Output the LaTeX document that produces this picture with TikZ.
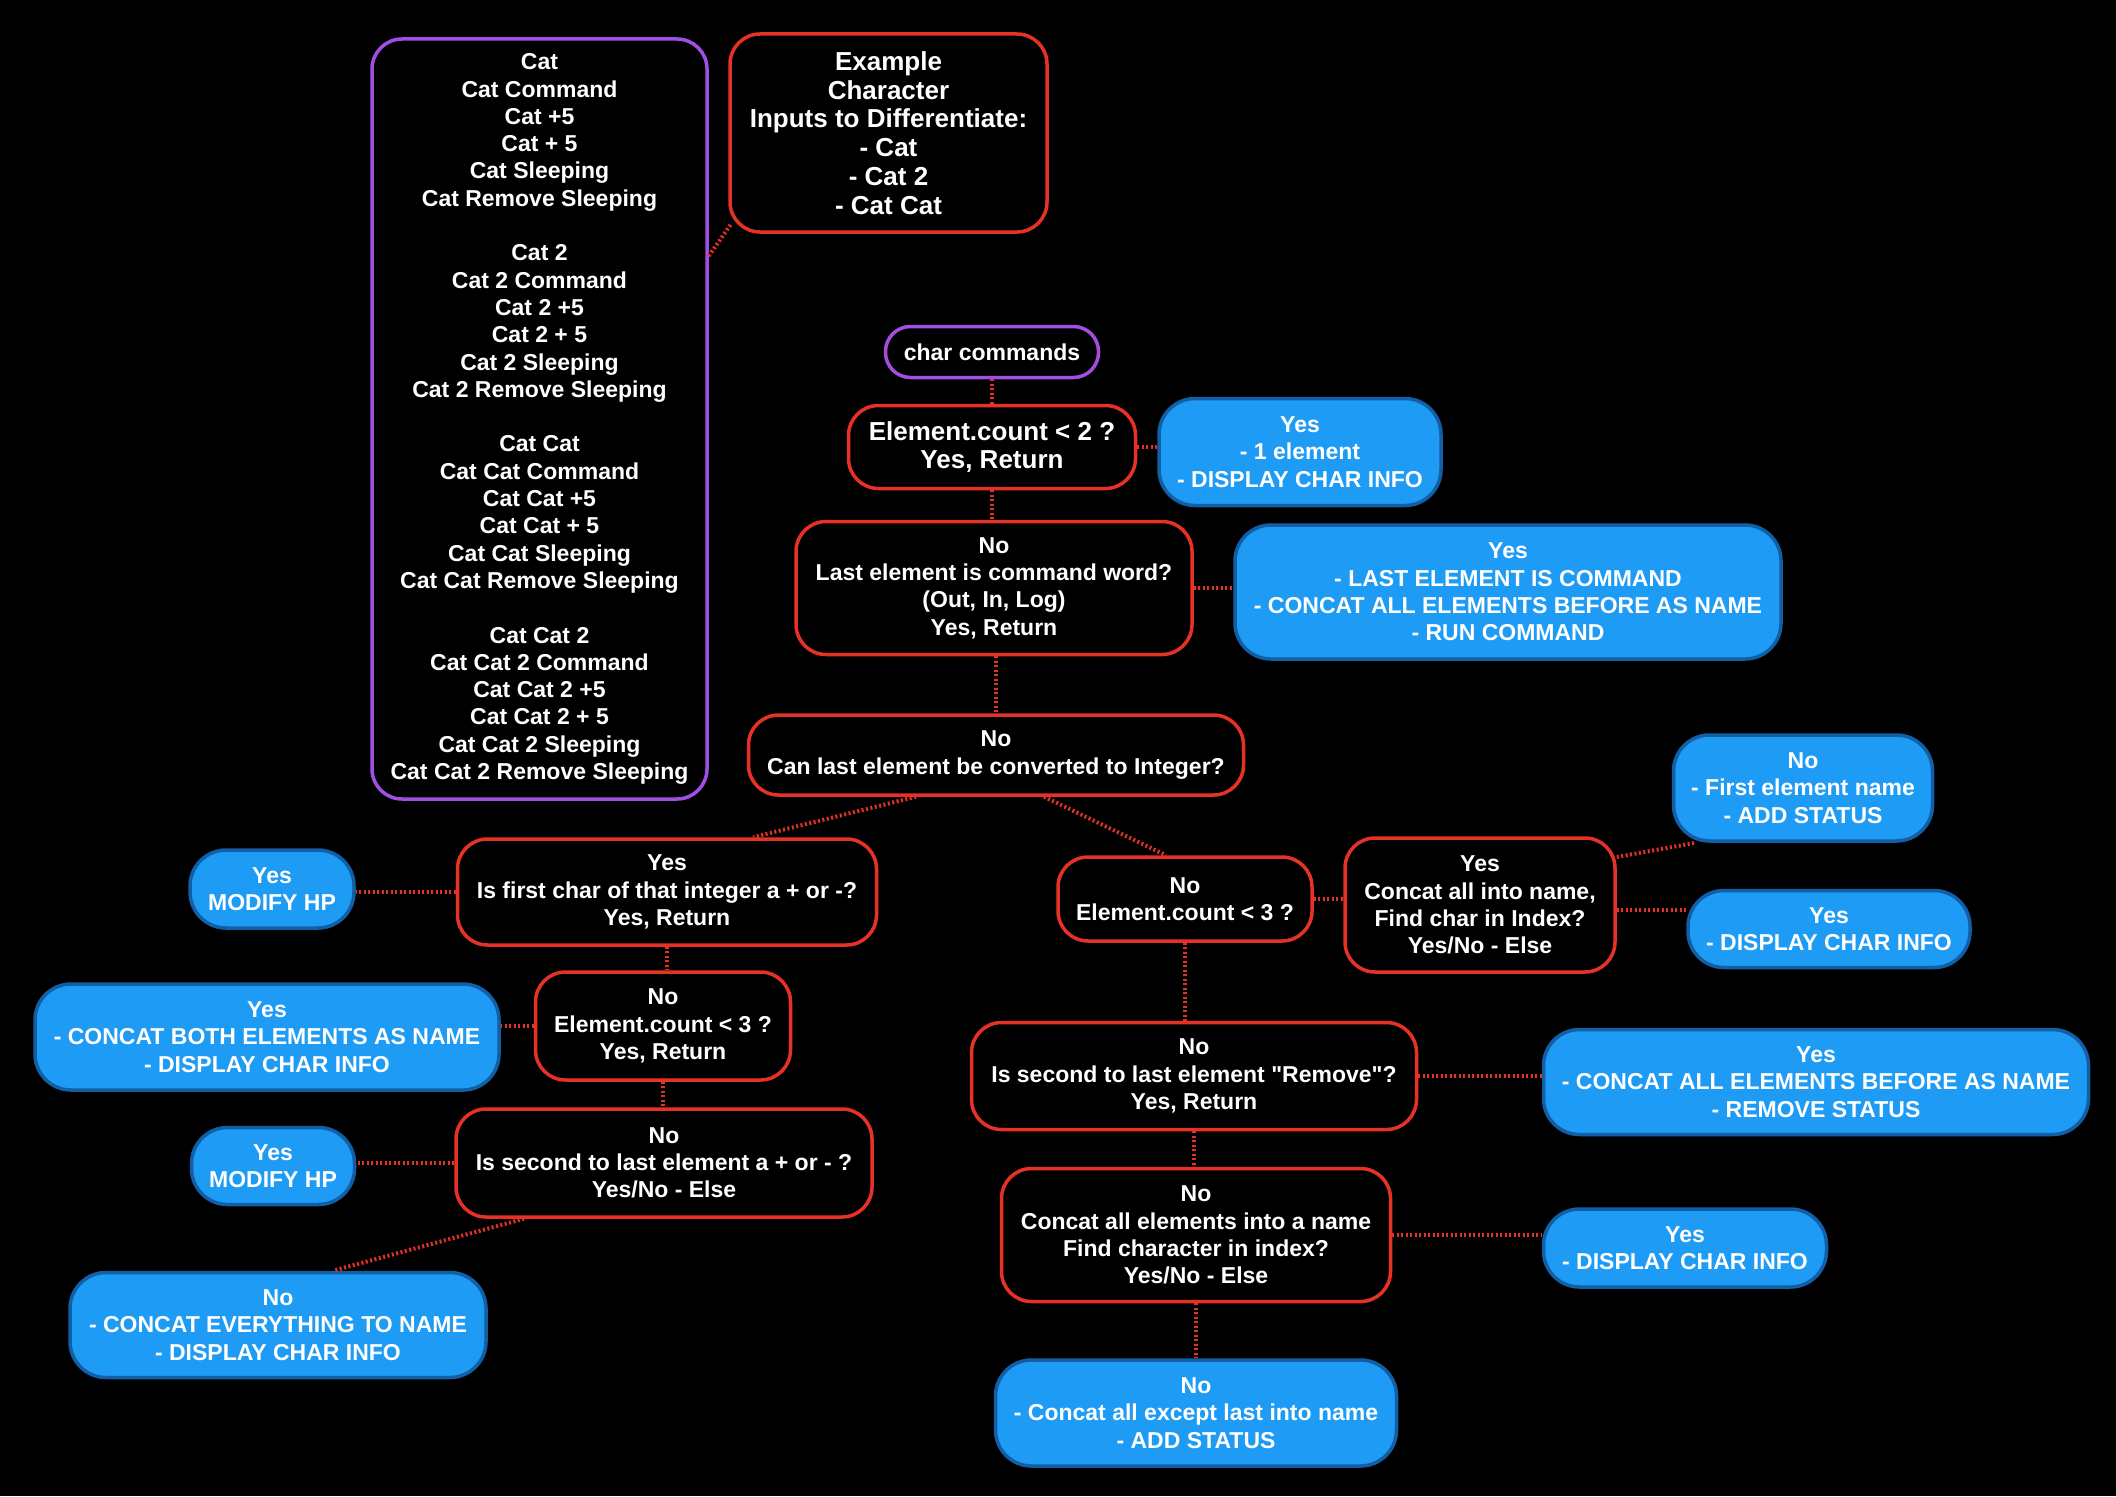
\documentclass[tikz,border=0pt]{standalone}
\usepackage{fontspec}
\setmainfont{Liberation Sans}[Ligatures=TeXOff]
\usetikzlibrary{calc}
\definecolor{redline}{RGB}{230,50,38}
\definecolor{purp}{RGB}{160,78,228}
\definecolor{bluefill}{RGB}{30,155,245}
\definecolor{blueline}{RGB}{18,95,165}
\begin{document}
\begin{tikzpicture}[x=1pt,y=-1pt,
  base/.style={align=center, text=white, font=\bfseries\fontsize{23}{27.3}\selectfont, inner sep=0pt, line width=3.5pt},
  bigtext/.style={font=\bfseries\fontsize{26}{28.8}\selectfont},
  redbox/.style={base, draw=redline, fill=black, rounded corners=30pt},
  purpbox/.style={base, draw=purp, fill=black, rounded corners=30pt},
  bluebox/.style={base, draw=blueline, fill=bluefill, rounded corners=36pt},
  conn/.style={draw=redline, line width=4pt, dash pattern=on 2pt off 2.5pt},
  sz/.style 2 args={minimum width=#1, minimum height=#2}]
\fill[black] (0,0) rectangle (2116,1496);
\useasboundingbox (0,0) rectangle (2116,1496);

% top-left nodes
\node[purpbox, sz={335pt}{760pt}] (cats) at (539.5,419) {Cat\\Cat Command\\Cat +5\\Cat + 5\\Cat Sleeping\\Cat Remove Sleeping\\[27.3pt]Cat 2\\Cat 2 Command\\Cat 2 +5\\Cat 2 + 5\\Cat 2 Sleeping\\Cat 2 Remove Sleeping\\[27.3pt]Cat Cat\\Cat Cat Command\\Cat Cat +5\\Cat Cat + 5\\Cat Cat Sleeping\\Cat Cat Remove Sleeping\\[27.3pt]Cat Cat 2\\Cat Cat 2 Command\\Cat Cat 2 +5\\Cat Cat 2 + 5\\Cat Cat 2 Sleeping\\Cat Cat 2 Remove Sleeping};
\node[redbox, bigtext, sz={317pt}{198pt}] (example) at (888.5,133) {Example\\Character\\Inputs to Differentiate:\\- Cat\\- Cat 2\\- Cat Cat};

% main column
\node[purpbox, rounded corners=25pt, sz={213pt}{51pt}] (start) at (992,352) {char commands};
\node[redbox, bigtext, sz={287pt}{83pt}] (q1) at (992,447) {Element.count < 2 ?\\Yes, Return};
\node[bluebox, sz={282pt}{107pt}] (y1) at (1300,452) {Yes\\- 1 element\\- DISPLAY CHAR INFO};
\node[redbox, sz={396pt}{133pt}] (q2) at (994,588) {No\\Last element is command word?\\(Out, In, Log)\\Yes, Return};
\node[bluebox, sz={546pt}{134pt}] (y2) at (1508,592) {Yes\\- LAST ELEMENT IS COMMAND\\- CONCAT ALL ELEMENTS BEFORE AS NAME\\- RUN COMMAND};
\node[redbox, sz={495pt}{80pt}] (q3) at (996,755) {No\\Can last element be converted to Integer?};

% left branch
\node[redbox, sz={419pt}{106pt}] (q4) at (667,892) {Yes\\Is first char of that integer a + or -?\\Yes, Return};
\node[bluebox, sz={164pt}{78pt}] (y4) at (272,889) {Yes\\MODIFY HP};
\node[redbox, sz={255pt}{108pt}] (q5) at (663,1026) {No\\Element.count < 3 ?\\Yes, Return};
\node[bluebox, sz={464pt}{106pt}] (y5) at (267,1037) {Yes\\- CONCAT BOTH ELEMENTS AS NAME\\- DISPLAY CHAR INFO};
\node[redbox, sz={416pt}{108pt}] (q6) at (664,1163) {No\\Is second to last element a + or - ?\\Yes/No - Else};
\node[bluebox, sz={163pt}{77pt}] (y6) at (273,1166) {Yes\\MODIFY HP};
\node[bluebox, sz={416pt}{105pt}] (n6) at (278,1325) {No\\- CONCAT EVERYTHING TO NAME\\- DISPLAY CHAR INFO};

% right branch
\node[redbox, sz={254pt}{84pt}] (q7) at (1185,899) {No\\Element.count < 3 ?};
\node[redbox, sz={270pt}{134pt}] (q8) at (1480,905) {Yes\\Concat all into name,\\Find char in Index?\\Yes/No - Else};
\node[bluebox, sz={259pt}{106pt}] (n8) at (1803,788) {No\\- First element name\\- ADD STATUS};
\node[bluebox, sz={282pt}{77pt}] (y8) at (1829,929) {Yes\\- DISPLAY CHAR INFO};
\node[redbox, sz={445pt}{107pt}] (q9) at (1194,1076) {No\\Is second to last element "Remove"?\\Yes, Return};
\node[bluebox, sz={545pt}{105pt}] (y9) at (1816,1082) {Yes\\- CONCAT ALL ELEMENTS BEFORE AS NAME\\- REMOVE STATUS};
\node[redbox, sz={389pt}{133pt}] (q10) at (1196,1235) {No\\Concat all elements into a name\\Find character in index?\\Yes/No - Else};
\node[bluebox, sz={283pt}{78pt}] (y10) at (1685,1248) {Yes\\- DISPLAY CHAR INFO};
\node[bluebox, sz={401pt}{106pt}] (n10) at (1196,1413) {No\\- Concat all except last into name\\- ADD STATUS};

% helper coordinates
\coordinate (q2s) at ($(q2.south)+(2,0)$);
\coordinate (q8e) at ($(q8.east)+(0,5)$);

% connectors
\draw[conn] ($(cats.east)+(0,-163)$) -- ($(example.south west)+(3,-10)$);
\draw[conn] (start.south) -- (start.south |- q1.north);
\draw[conn] (q1.south) -- (q1.south |- q2.north);
\draw[conn] (q2s) -- (q2s |- q3.north);
\draw[conn] (q1.east) -- (q1.east -| y1.west);
\draw[conn] (q2.east) -- (q2.east -| y2.west);
\draw[conn] ($(q3.south)+(-80,0)$) -- ($(q4.north)+(86,0)$);
\draw[conn] ($(q3.south)+(48,0)$) -- ($(q7.north)+(-19,0)$);
\draw[conn] (q4.west) -- (q4.west -| y4.east);
\draw[conn] (q4.south) -- (q4.south |- q5.north);
\draw[conn] (q5.west) -- (q5.west -| y5.east);
\draw[conn] (q5.south) -- (q5.south |- q6.north);
\draw[conn] (q6.west) -- (q6.west -| y6.east);
\draw[conn] ($(q6.south)+(-140,0)$) -- ($(n6.north)+(55,0)$);
\draw[conn] (q7.east) -- (q7.east -| q8.west);
\draw[conn] ($(q8.east)+(0,-48)$) -- ($(n8.south west)+(24,0)$);
\draw[conn] (q8e) -- (q8e -| y8.west);
\draw[conn] (q7.south) -- (q7.south |- q9.north);
\draw[conn] (q9.east) -- (q9.east -| y9.west);
\draw[conn] (q9.south) -- (q9.south |- q10.north);
\draw[conn] (q10.east) -- (q10.east -| y10.west);
\draw[conn] (q10.south) -- (q10.south |- n10.north);
\end{tikzpicture}
\end{document}
